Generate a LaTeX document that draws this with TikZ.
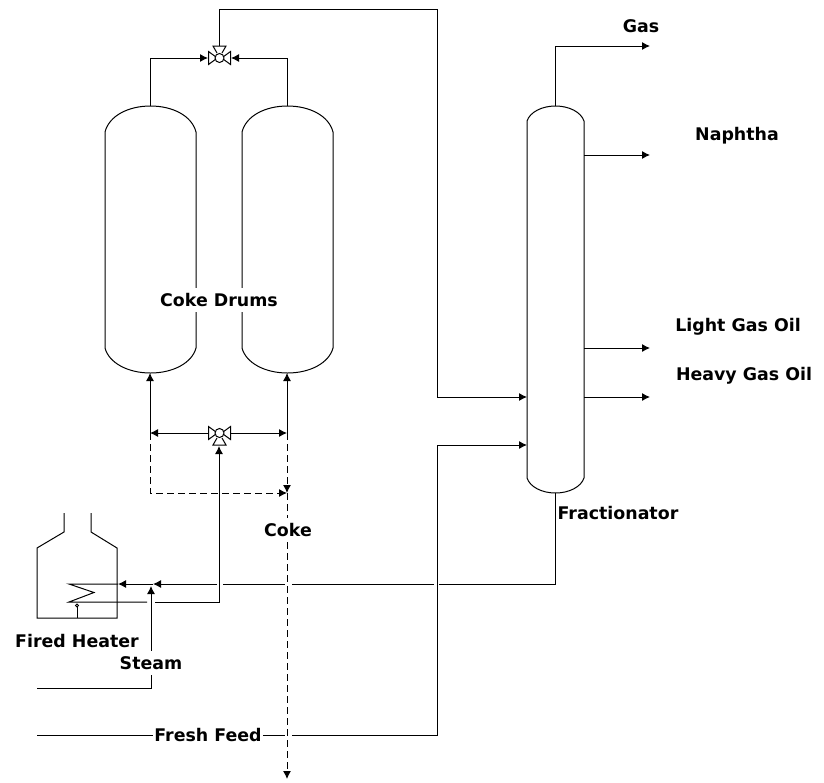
\documentclass[tikz,border=0pt]{standalone}
\usepackage{fontspec}
\setmainfont{DejaVu Sans}
\usetikzlibrary{arrows.meta,positioning}

\begin{document}
\begin{tikzpicture}[
    x=1pt,y=-1pt,
    pipe/.style={draw=black,line width=1pt},
    arrow/.style={pipe,-{Latex[length=8pt,width=8pt]}},
    dasharrow/.style={arrow,dash pattern=on 7pt off 4pt},
    dashpipe/.style={pipe,dash pattern=on 7pt off 4pt},
    vessel/.style={pipe},
    tag/.style={font=\bfseries\fontsize{17.4}{20}\selectfont,inner xsep=1pt,inner ysep=0pt,
      minimum height=24pt,fill=white},
    valve/.pic={
      \draw[vessel] (0,0) circle (4.5);
      \draw[vessel] (-4.2,-1.5) -- (-11,-6.5) -- (-11,6.5) -- (-4.2,1.5);
      \draw[vessel] (4.2,-1.5) -- (11,-6.5) -- (11,6.5) -- (4.2,1.5);
    }
  ]
    \useasboundingbox (0,0) rectangle (824,782);

    % drums and column
    \draw[vessel] (105,348) -- (105,132) .. controls (109,116) and (128,106) .. (150.5,106)
      .. controls (173,106) and (192,116) .. (196,132) -- (196,348)
      .. controls (192,363) and (173,373) .. (150.5,373) .. controls (128,373) and (109,363) .. (105,348);
    \draw[vessel] (242,348) -- (242,132) .. controls (246,116) and (265,106) .. (287.5,106)
      .. controls (310,106) and (329,116) .. (333,132) -- (333,348)
      .. controls (329,363) and (310,373) .. (287.5,373) .. controls (265,373) and (246,363) .. (242,348);
    \draw[vessel] (527,478) -- (527,121) .. controls (530,112) and (542,106) .. (555.5,106)
      .. controls (569,106) and (581,112) .. (584,121) -- (584,478)
      .. controls (581,487) and (569,493) .. (555.5,493) .. controls (542,493) and (530,487) .. (527,478);

    % heater
    \draw[vessel] (64,513) -- (64,532) -- (37,548) -- (37,618) -- (117,618) -- (117,548) -- (91,532) -- (91,513);
    \draw[vessel] (77,618) -- (77,607);
    \draw[vessel] (77,605.5) circle (1.5);

    % valves
    \pic at (219.5,58) {valve};
    \pic at (219.5,433) {valve};
    \draw[vessel] (217,53) -- (213,46) -- (226,46) -- (222,53);
    \draw[vessel] (217,438) -- (213,445) -- (226,445) -- (222,438);

    \coordinate (topvalveL) at (208,58);
    \coordinate (topvalveR) at (231,58);
    \coordinate (topvalveT) at (219,46);
    \coordinate (lowvalveL) at (208,433);
    \coordinate (lowvalveR) at (231,433);
    \coordinate (lowvalveB) at (219,446);
    \coordinate (drumAtop) at (150,106);
    \coordinate (drumBtop) at (287,106);
    \coordinate (drumAbot) at (150,373);
    \coordinate (drumBbot) at (287,373);
    \coordinate (colTop) at (555,106);
    \coordinate (colBot) at (555,493);
    \coordinate (colIn) at (527,397);
    \coordinate (colFeed) at (527,445);
    \coordinate (teeA) at (150,433);
    \coordinate (teeB) at (287,433);
    \coordinate (cokeEnd) at (287,779);

    % labels
    \node[tag] (drums) at (219,300) {Coke Drums};
    \node[tag] (coke) at (288,530) {Coke};
    \node[tag] (heater) at (77,641) {Fired Heater};
    \node[tag] (steam) at (151,663) {Steam};
    \node[tag] (feed) at (208,735) {Fresh Feed};
    \node[tag] (gas) at (641,26) {Gas};
    \node[tag] (naphtha) at (737,136) {Naphtha};
    \node[tag] (lgo) at (738,327) {Light Gas Oil};
    \node[tag] (hgo) at (744,376) {Heavy Gas Oil};
    \node[tag] (frac) at (618,513) {Fractionator};

    % overhead
    \draw[arrow] (drumAtop) |- (topvalveL);
    \draw[arrow] (drumBtop) |- (topvalveR);
    \draw[arrow] (topvalveT) -- (219,9) -- (437,9) -- (437,397) -- (colIn);

    % drum inlets
    \draw[arrow] (lowvalveL) -- (teeA);
    \draw[arrow] (lowvalveR) -- (teeB);
    \draw[arrow] (teeA) -- (drumAbot);
    \draw[arrow] (teeB) -- (drumBbot);

    % coke
    \draw[dasharrow] (teeA) -- (150,493) -- (287,493);
    \draw[dasharrow] (teeB) -- (287,493);
    \draw[dashpipe] (287,493) -- (coke.north -| cokeEnd);
    \draw[dasharrow] (coke.south -| cokeEnd) -- (cokeEnd);

    % column products
    \draw[arrow] (colTop) -- (555,46) -- (650,46);
    \draw[arrow] (584,155) -- (650,155);
    \draw[arrow] (584,348) -- (650,348);
    \draw[arrow] (584,397) -- (650,397);

    % bottoms to heater
    \draw[pipe] (colBot) -- (555,584) -- (439,584);
    \draw[pipe] (434,584) -- (292,584);
    \draw[pipe] (285,584) -- (223,584);
    \draw[arrow] (217,584) -- (153,584);
    \draw[arrow] (153,584) -- (118,584);
    \draw[pipe] (118,584) -- (69,584) -- (94,592.5) -- (69,602) -- (147,602);
    \draw[arrow] (155,602) -- (219,602) -- (lowvalveB);

    % steam and feed
    \draw[pipe] (37,688) -- (151,688) -- (steam);
    \draw[arrow] (steam) -- (151,586);
    \draw[pipe] (37,735) -- (feed);
    \draw[pipe] (feed) -- (285,735);
    \draw[arrow] (292,735) -- (437,735) -- (437,445) -- (colFeed);
  \end{tikzpicture}
\end{document}
